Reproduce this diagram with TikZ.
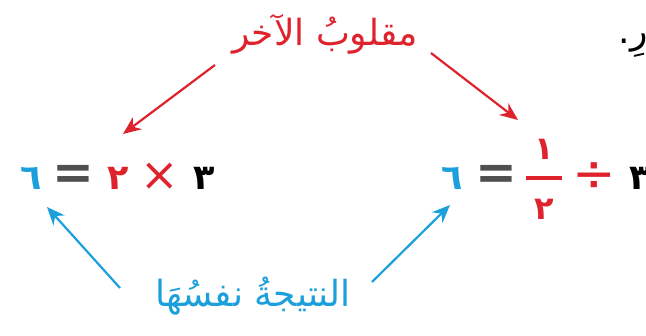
\documentclass[tikz,border=0pt]{standalone}
\usepackage{fontspec}
\usetikzlibrary{arrows.meta}
\TeXXeTstate=1
\newfontfamily\arabicfont[Script=Arabic]{DejaVu Sans}
\definecolor{myred}{RGB}{222,35,45}
\definecolor{myblue}{RGB}{28,160,220}
\definecolor{eqgray}{RGB}{80,80,80}
\tikzset{
  lbl/.style={inner sep=0pt, font=\arabicfont\fontsize{36}{40}\selectfont},
  dig/.style={inner sep=0pt, font=\arabicfont\bfseries\fontsize{35}{38}\selectfont},
  fracdig/.style={inner sep=0pt, font=\arabicfont\bfseries\fontsize{32}{34}\selectfont},
  sym/.style={inner sep=0pt, font=\arabicfont\fontsize{46}{48}\selectfont},
  eqs/.style={inner sep=0pt, text=eqgray, font=\arabicfont\bfseries\fontsize{50}{52}\selectfont},
  redarrow/.style={draw=myred, line width=2.2pt, -{Stealth[length=18pt,width=15pt]}},
  bluearrow/.style={draw=myblue, line width=2.2pt, -{Stealth[length=18pt,width=15pt]}}
}
\begin{document}
\begin{tikzpicture}[x=1pt,y=-1pt]
\useasboundingbox[fill=white] (0,0) rectangle (646,336);
% labels
\node[lbl, text=myred] (lab1) at (325,34) {\beginR مقلوبُ الآخر\endR};
\node[lbl, text=myblue] (lab2) at (253,296) {\beginR النتيجةُ نفسُهَا\endR};
\node[lbl, text=black, anchor=east] (tail) at (648,46) {\beginR رِ.\endR};
% left equation
\node[dig, text=myblue] (L6) at (31,178) {٦};
\node[eqs] (Leq) at (73,177) {=};
\node[dig, text=myred] (L2) at (118,178) {٢};
\node[sym, text=myred] (Lx) at (160,177) {×};
\node[dig, text=black] (L3) at (204,178) {٣};
% right equation
\node[dig, text=myblue] (R6) at (452,178) {٦};
\node[eqs] (Req) at (496,177) {=};
\node[fracdig, text=myred] (R1) at (544,149) {١};
\coordinate (barL) at (526,178);
\coordinate (barR) at (562,178);
\draw[myred, line width=4pt] (barL) -- (barR);
\node[fracdig, text=myred] (R2) at (544,209) {٢};
\node[sym, text=myred, font=\arabicfont\fontsize{52}{54}\selectfont] (Rdiv) at (594,177) {÷};
\node[dig, text=black] (R3) at (640,178) {٣};
% arrows
\coordinate (r1s) at (215,65);
\coordinate (r1e) at (123,134);
\coordinate (r2s) at (431,53);
\coordinate (r2e) at (518,120);
\coordinate (b1s) at (120,288);
\coordinate (b1e) at (47,207);
\coordinate (b2s) at (372,282);
\coordinate (b2e) at (450,205);
\draw[redarrow] (r1s) -- (r1e);
\draw[redarrow] (r2s) -- (r2e);
\draw[bluearrow] (b1s) -- (b1e);
\draw[bluearrow] (b2s) -- (b2e);
\end{tikzpicture}
\end{document}
